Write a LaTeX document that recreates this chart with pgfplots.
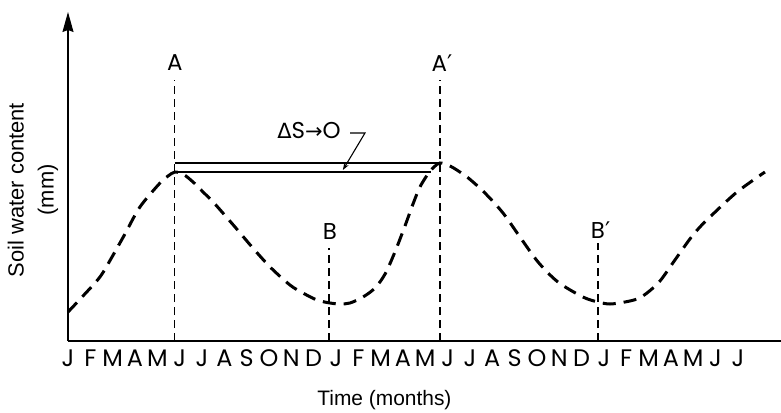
\documentclass[border=0pt]{standalone}
\usepackage{fontspec}
\setmainfont{Liberation Sans}
\newfontfamily\geo{Poppins}
\newfontfamily\dv{DejaVu Sans}
\usepackage{pgfplots}
\pgfplotsset{compat=1.18}
\usetikzlibrary{arrows.meta}

\begin{document}
\begin{tikzpicture}
\path[use as bounding box] (-68bp,-72bp) rectangle (713bp,341bp);
\begin{axis}[
 at={(0,0)}, anchor=south west,
 scale only axis, width=713bp, height=329bp,
 xmin=0, xmax=31.93, ymin=0, ymax=329,
 axis lines=left,
 x axis line style={-, line width=1.2bp},
 y axis line style={-{Stealth[length=20bp,width=11bp,inset=2bp]}, line width=1.2bp},
 xtick={0,...,30},
 xticklabels={J,F,M,A,M,J,J,A,S,O,N,D,J,F,M,A,M,J,J,A,S,O,N,D,J,F,M,A,M,J,J},
 ytick=\empty,
 major tick length=0pt,
 xticklabel style={font=\geo\fontsize{24}{24}\selectfont, yshift=-5bp},
 clip=false,
]
% soil water content curve
\addplot[black, line width=3bp, dash pattern=on 13bp off 8bp, smooth] coordinates {
(0,29) (0.63,44) (1.43,64) (1.97,84) (2.55,107) (3.22,134) (4.12,158) (4.48,165)
(4.79,169) (5.15,167) (5.60,159) (6.05,149) (6.58,137) (7.48,114) (8.24,94)
(9.05,74) (9.94,56) (10.52,48) (11.15,41) (11.73,38) (12.18,37) (12.63,38)
(13.21,44) (13.75,53) (14.20,67) (14.64,89) (15.09,115) (15.45,137) (15.76,154)
(16.12,167) (16.39,174) (16.66,178) (17.11,175) (17.87,164) (18.67,148) (19.48,128)
(20.24,104) (21.05,79) (21.94,59) (23.06,44) (23.73,39) (24.27,37) (24.94,39)
(25.48,42) (25.93,48) (26.51,60) (27.18,81) (27.85,102) (28.30,114) (28.84,126) (29.96,149)
(31.21,169)
};
% vertical reference lines
\addplot[black, line width=1.5bp, dash pattern=on 8bp off 5bp] coordinates {(4.77,0) (4.77,261)};
\addplot[black, line width=1.5bp, dash pattern=on 8bp off 5bp] coordinates {(16.66,0) (16.66,261)};
\addplot[black, line width=1.5bp, dash pattern=on 8bp off 5bp] coordinates {(11.69,0) (11.69,93)};
\addplot[black, line width=1.5bp, dash pattern=on 8bp off 5bp] coordinates {(23.73,0) (23.73,98)};
% storage levels
\addplot[black, line width=1.1bp] coordinates {(4.79,178) (16.66,178)};
\addplot[black, line width=1.1bp] coordinates {(4.79,169) (16.25,169)};
% leader arrow
\addplot[black, line width=1.1bp, -{Stealth[length=7bp,width=5bp]}] coordinates {(12.63,208) (13.3,208) (12.31,171)};
% labels
\node[font=\geo\fontsize{23}{23}\selectfont] at (axis cs:4.79,278) {A};
\node[font=\geo\fontsize{23}{23}\selectfont] at (axis cs:16.75,278) {A{\dv ′}};
\node[font=\geo\fontsize{23}{23}\selectfont] at (axis cs:11.73,109) {B};
\node[font=\geo\fontsize{23}{23}\selectfont] at (axis cs:23.85,111) {B{\dv ′}};
\node[font=\geo\fontsize{23}{23}\selectfont] at (axis cs:10.79,211) {{\dv\fontsize{21}{21}\selectfont Δ}S{\dv\fontsize{21}{21}\selectfont →}O};
\node[rotate=90, align=center, font=\fontsize{22}{30}\selectfont] at (axis cs:-1.57,151) {Soil water content\\(mm)};
\node[font=\fontsize{21}{21}\selectfont] at (axis cs:14.17,-59) {Time (months)};
\end{axis}
\end{tikzpicture}
\end{document}
